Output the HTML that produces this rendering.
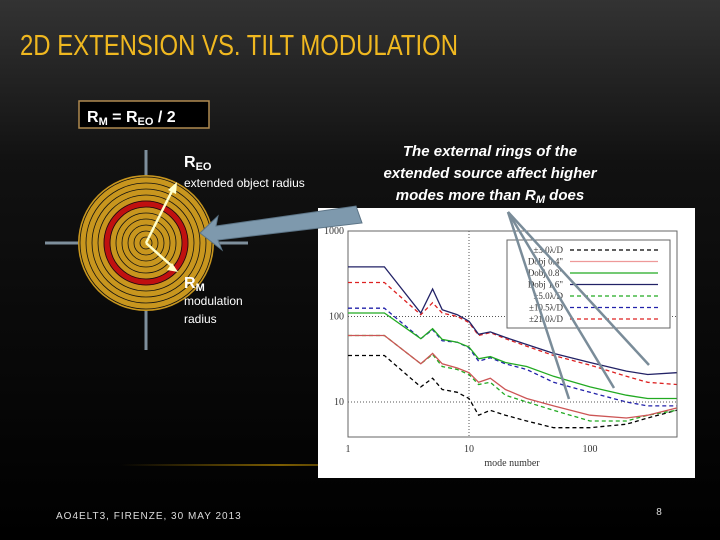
<!DOCTYPE html>
<html><head><meta charset="utf-8"><style>
html,body{margin:0;padding:0;background:#000;}
svg{display:block;font-family:"Liberation Sans",sans-serif;}
</style></head><body>
<svg id="s" width="720" height="540" viewBox="0 0 720 540">
<defs>
<linearGradient id="bg" x1="0" y1="0" x2="0" y2="1">
<stop offset="0" stop-color="#333"/><stop offset="0.3" stop-color="#111"/><stop offset="1" stop-color="#000"/>
</linearGradient>
<linearGradient id="glow" x1="0" x2="1"><stop offset="0" stop-color="#c90" stop-opacity="0"/><stop offset="0.5" stop-color="#c90" stop-opacity="0.6"/><stop offset="1" stop-color="#c90" stop-opacity="0"/></linearGradient>
</defs>
<rect width="720" height="540" fill="url(#bg)"/>
<rect x="120" y="464" width="320" height="2" fill="url(#glow)"/>
<text x="20" y="55" font-size="29" fill="#f0b820" textLength="438" lengthAdjust="spacingAndGlyphs">2D EXTENSION VS. TILT MODULATION</text>
<g>
<rect x="79" y="101" width="130" height="27" fill="#000" stroke="#b08a50" stroke-width="1.5"/>
<text x="87" y="122" font-size="16" font-weight="bold" fill="#fff">R<tspan font-size="11" dy="3">M</tspan><tspan dy="-3"> = R</tspan><tspan font-size="11" dy="3">EO</tspan><tspan dy="-3"> / 2</tspan></text>
</g>
<g id="target"></g>
<text x="184" y="167" font-size="16" font-weight="bold" fill="#fff">R<tspan font-size="11" dy="3">EO</tspan></text>
<text x="184" y="187" font-size="12" fill="#fff">extended object radius</text>
<text x="184" y="288" font-size="16" font-weight="bold" fill="#fff">R<tspan font-size="11" dy="3">M</tspan></text>
<text x="184" y="305" font-size="12" fill="#fff">modulation</text>
<text x="184" y="323" font-size="12" fill="#fff">radius</text>
<g font-size="15" font-weight="bold" font-style="italic" fill="#fff" text-anchor="middle">
<text x="490" y="156">The external rings of the</text>
<text x="490" y="178">extended source affect higher</text>
<text x="490" y="200">modes more than R<tspan font-size="11" dy="3">M</tspan><tspan dy="-3"> does</tspan></text>
</g>
<g id="chart"></g>
<polygon points="200,233 218,216 216,226 356,206 362,223 218,240 222,250" fill="#7e99ad" stroke="#5c7486"/>
<g stroke="#7a8c99" stroke-width="2.5">
<line x1="508" y1="212" x2="569" y2="399"/><line x1="508" y1="212" x2="614" y2="388"/><line x1="508" y1="212" x2="649" y2="365"/>
</g>
<text x="56" y="519" font-size="10" fill="#ddd" letter-spacing="1">AO4ELT3, FIRENZE, 30 MAY 2013</text>
<text x="659" y="515" font-size="10" fill="#ddd" text-anchor="middle">8</text>
</svg>
<script>
var NS='http://www.w3.org/2000/svg';
function mk(p,t,a){var e=document.createElementNS(NS,t);for(var k in a)e.setAttribute(k,a[k]);p.appendChild(e);return e;}
// target diagram
var tg=document.getElementById('target');
var cx=146,cy=243;
mk(tg,'line',{x1:45,y1:243,x2:248,y2:243,stroke:'#7e8f9c','stroke-width':3});
mk(tg,'line',{x1:146,y1:150,x2:146,y2:350,stroke:'#7e8f9c','stroke-width':3});
mk(tg,'circle',{cx:cx,cy:cy,r:68,fill:'#c8961e'});
mk(tg,'circle',{cx:cx,cy:cy,r:39,fill:'none',stroke:'#c01010','stroke-width':7});
for(var r=6;r<=66;r+=6){var c=mk(tg,'circle',{cx:cx,cy:cy,r:r,fill:'none',stroke:'#111','stroke-width':0.8});}
mk(tg,'line',{x1:146,y1:243,x2:174,y2:187,stroke:'#ffffcc','stroke-width':2.5});
mk(tg,'polygon',{points:'177,182 176,194 168,190',fill:'#ffffcc'});
mk(tg,'line',{x1:146,y1:243,x2:174,y2:268,stroke:'#ffffcc','stroke-width':2.5});
mk(tg,'polygon',{points:'178,272 167,270 172,263',fill:'#ffffcc'});

// chart data
var modes=[1,2,4,5,6,8,10,12,15,20,30,50,100,200,300,520];
var sBlack=[35,35,15,19,14,13,11,7,8,7,6,5,5,5.5,6.5,8];
var sGreenD=[60,60,28,36,26,24,21,16,17,12,10,8,6,6,7,8];
var sRedThin=[60,60,28,37,28,25,22,17,19,14,11,9,7,6.5,7,8.5];
var sBlueD=[125,125,55,70,52,50,43,30,33,28,24,17,13,10,9,9];
var sGreenS=[110,110,55,72,54,50,44,32,34,29,26,20,15,12,11,11];
var sRedD=[250,250,105,145,110,100,85,60,65,55,45,35,27,20,17,16];
var sNavy=[380,380,110,210,120,105,88,62,66,57,47,37,29,23,21,22];
var series=[[sBlack,'#000','4,3'],[sGreenD,'#2a2','4,3'],[sRedThin,'#c55',''],[sBlueD,'#22a','4,3'],[sGreenS,'#2a2',''],[sRedD,'#d22','4,3'],[sNavy,'#226','']];
var xTicks=[1,10,100];var yTicks=[10,100,1000];
var L=348,R=677,T=231,B=437;
function X(v){return L+Math.log10(v)*121;}
function Y(v){return 402-(Math.log10(v)-1)*85.5;}
var ch=document.getElementById('chart');
var bg=mk(ch,'rect',{x:318,y:208,width:377,height:270,fill:'#fff'});


mk(ch,'rect',{x:L,y:T,width:R-L,height:B-T,fill:'none',stroke:'#666','stroke-width':1});
xTicks.forEach(function(t){var x=X(t);
 var tx=mk(ch,'text',{x:x,y:452,'font-size':10,'font-family':'Liberation Serif, serif','text-anchor':'middle',fill:'#333'});tx.textContent=t;
 
 
 if(t==10)mk(ch,'line',{x1:x,y1:T,x2:x,y2:B,stroke:'#555','stroke-dasharray':'1,2'});});
yTicks.forEach(function(t){var y=Y(t);
 var tx=mk(ch,'text',{x:344,y:y+3,'font-size':10,'font-family':'Liberation Serif, serif','text-anchor':'end',fill:'#333'});tx.textContent=t;
 
 
 if(t<1000)mk(ch,'line',{x1:L,y1:y,x2:R,y2:y,stroke:'#555','stroke-dasharray':'1,2'});});
var xt=mk(ch,'text',{x:512,y:466,'font-size':10,'font-family':'Liberation Serif, serif','text-anchor':'middle',fill:'#333'});xt.textContent='mode number';


series.forEach(function(s){
 var pts=modes.map(function(m,i){return X(m).toFixed(1)+','+Y(s[0][i]).toFixed(1);}).join(' ');
 var pl=mk(ch,'polyline',{points:pts,fill:'none',stroke:s[1],'stroke-width':1.3,'stroke-dasharray':s[2]});
 
 
});
// legend
var legLabels=['±3.0λ/D','Dobj 0.4"','Dobj 0.8"','Dobj 1.6"','±5.0λ/D','±10.5λ/D','±21.0λ/D'];
var legColors=['#000','#e99','#2a2','#226','#2a2','#22a','#d22'];
var legDash=['4,3','','','','4,3','4,3','4,3'];
var lg=mk(ch,'g',{});


mk(lg,'rect',{x:507,y:240,width:163,height:88,fill:'#fff',stroke:'#666'});
legLabels.forEach(function(l,i){var y=250+i*11.5;
 var t=mk(lg,'text',{x:563,y:y+3,'font-size':9,'font-family':'Liberation Serif, serif','text-anchor':'end',fill:'#333'});t.textContent=l;
 mk(lg,'line',{x1:570,y1:y,x2:658,y2:y,stroke:legColors[i],'stroke-width':1.3,'stroke-dasharray':legDash[i]});});
</script>
</body></html>
